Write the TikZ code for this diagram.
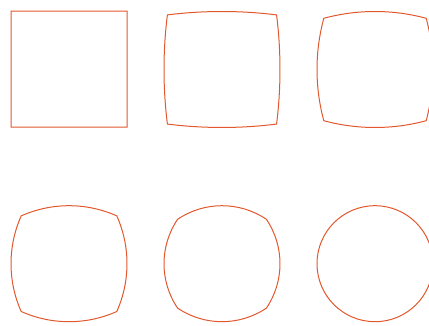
\documentclass[tikz,border=0pt]{standalone}
\definecolor{shapeorange}{HTML}{E2582C}
\tikzset{shapeline/.style={draw=shapeorange,line width=1pt,line join=miter},
  framefill/.style={fill=shapeorange,even odd rule}}
\begin{document}
\begin{tikzpicture}[x=1pt,y=1pt]
\useasboundingbox (0,0) rectangle (429,325);
% square (as a filled frame)
\fill[framefill] (10.5,197.5) rectangle (127.5,314.5) (11.5,198.5) rectangle (126.5,313.5);
% morphing shapes: center x, center y, half side
\foreach \cx/\cy/\h in {222/255.5/54.6, 375/255.5/51.2, 69/61.3/47.8, 222/61.3/44.4}{
  \pgfmathsetmacro{\s}{58-\h}
  \pgfmathsetmacro{\R}{(\h*\h+\s*\s)/(2*\s)}
  \pgfmathsetmacro{\th}{asin(\h/\R)}
  \draw[shapeline] (\cx-\h,\cy+\h)
    arc[start angle=90+\th, end angle=90-\th, radius=\R]
    arc[start angle=\th, end angle=-\th, radius=\R]
    arc[start angle=-90+\th, end angle=-90-\th, radius=\R]
    arc[start angle=180+\th, end angle=180-\th, radius=\R] -- cycle;
}
\draw[shapeline] (375,61.3) circle[radius=58];
\end{tikzpicture}
\end{document}
